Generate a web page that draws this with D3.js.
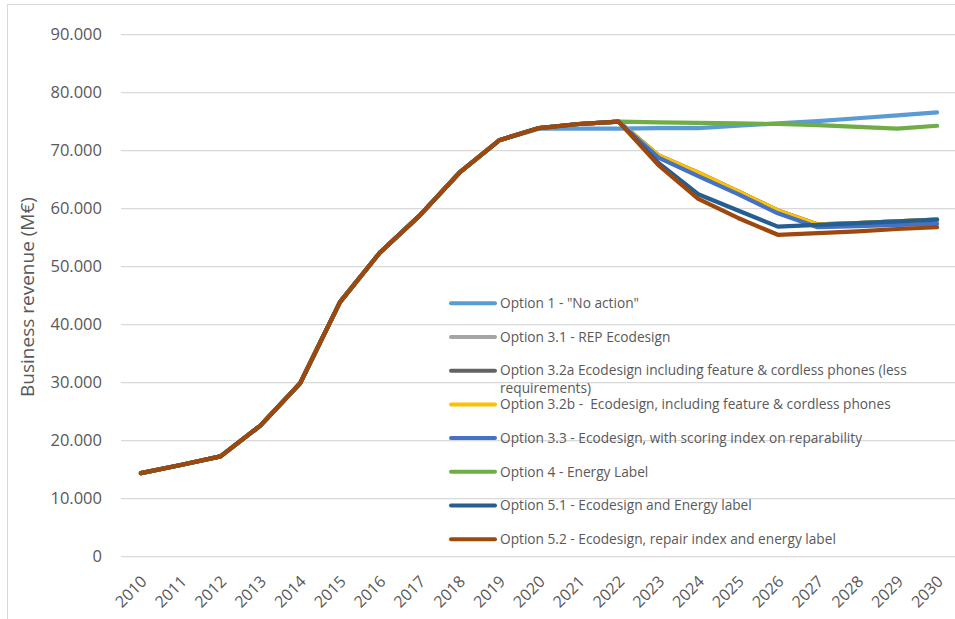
<!DOCTYPE html>
<html>
<head>
<meta charset="utf-8">
<script src="https://cdn.jsdelivr.net/npm/d3@7"></script>
<style>
  body { margin: 0; background: #fff; }
  svg { display: block; font-family: "Open Sans", sans-serif; }
  .grid line { stroke: #d9d9d9; stroke-width: 1.3; }
  .tick-label { fill: #595959; font-size: 16.5px; }
  .legend-text { fill: #595959; font-size: 13.7px; white-space: pre; }
</style>
</head>
<body>
<div id="chart"></div>
<script>
(function() {
  'use strict';

  var years = ['2010', '2011', '2012', '2013', '2014', '2015', '2016', '2017', '2018', '2019',
    '2020', '2021', '2022', '2023', '2024', '2025', '2026', '2027', '2028', '2029', '2030'];

  // 2010-2019 is the same for every option
  var history = [14400, 15800, 17300, 22600, 29900, 43900, 52400, 58800, 66200, 71800];

  // 2020-2030, one list per option
  var option1 = [73800, 73800, 73800, 73900, 73900, 74300, 74700, 75100, 75600, 76100, 76600];
  var option31 = [73900, 74600, 75000, 69200, 66200, 63000, 59700, 57300, 57500, 57800, 58100];
  var option32a = [73900, 74600, 75000, 69200, 66200, 63000, 59700, 57300, 57500, 57800, 58100];
  var option32b = [73900, 74600, 75000, 69200, 66200, 63000, 59700, 57300, 57500, 57800, 58100];
  var option33 = [73900, 74600, 75000, 68800, 65600, 62500, 59200, 56800, 57000, 57200, 57400];
  var option4 = [73900, 74600, 75000, 74900, 74800, 74700, 74600, 74400, 74100, 73800, 74300];
  var option51 = [73900, 74600, 75000, 67900, 62500, 59700, 56900, 57200, 57500, 57800, 58100];
  var option52 = [73900, 74600, 75000, 67500, 61700, 58400, 55500, 55800, 56100, 56500, 56800];

  var seriesNames = [
    'Option 1 - "No action"',
    'Option 3.1 - REP Ecodesign',
    'Option 3.2a Ecodesign including feature & cordless phones (less requirements)',
    'Option 3.2b -  Ecodesign, including feature & cordless phones',
    'Option 3.3 - Ecodesign, with scoring index on reparability',
    'Option 4 - Energy Label',
    'Option 5.1 - Ecodesign and Energy label',
    'Option 5.2 - Ecodesign, repair index and energy label'
  ];
  var seriesTails = [option1, option31, option32a, option32b, option33, option4, option51, option52];
  var colors = ['#5b9bd5', '#a5a5a5', '#636363', '#ffc000', '#4472c4', '#70ad47', '#255e91', '#9e480e'];

  var yTicks = [0, 10000, 20000, 30000, 40000, 50000, 60000, 70000, 80000, 90000];
  var yLabel = 'Business revenue (M€)';

  var width = 955, height = 619;
  var plot = { left: 121, right: 957, top: 34.7, bottom: 556.7 };

  var series = seriesNames.map(function(name, i) {
    return {
      name: name,
      color: colors[i],
      values: history.concat(seriesTails[i])
    };
  });

  var x = d3.scalePoint()
    .domain(years)
    .range([plot.left, plot.right])
    .padding(0.5);

  var y = d3.scaleLinear()
    .domain([0, 90000])
    .range([plot.bottom, plot.top]);

  var fmt = d3.formatLocale({ decimal: ',', thousands: '.', grouping: [3], currency: ['', '€'] }).format(',');

  var svg = d3.select('#chart').append('svg')
    .attr('width', width)
    .attr('height', height);

  // chart border
  svg.append('rect')
    .attr('x', 7.5)
    .attr('y', 4.5)
    .attr('width', 1000)
    .attr('height', 700)
    .attr('fill', 'none')
    .attr('stroke', '#d9d9d9')
    .attr('stroke-width', 1);

  // gridlines + y labels
  var grid = svg.append('g').attr('class', 'grid');
  grid.selectAll('line')
    .data(yTicks)
    .enter().append('line')
    .attr('x1', plot.left)
    .attr('x2', plot.right)
    .attr('y1', function(d) { return y(d); })
    .attr('y2', function(d) { return y(d); });

  svg.append('g').selectAll('text')
    .data(yTicks)
    .enter().append('text')
    .attr('class', 'tick-label')
    .attr('x', 102)
    .attr('y', function(d) { return y(d); })
    .attr('dy', '0.35em')
    .attr('text-anchor', 'end')
    .text(function(d) { return fmt(d); });

  // x labels, rotated
  svg.append('g').selectAll('text')
    .data(years)
    .enter().append('text')
    .attr('class', 'tick-label')
    .style('font-size', '16px')
    .attr('text-anchor', 'end')
    .attr('transform', function(d) {
      return 'translate(' + (x(d) - 1) + ',' + (plot.bottom + 18) + ') rotate(-45)';
    })
    .attr('dy', '0.7em')
    .text(function(d) { return d; });

  svg.append('text')
    .attr('class', 'tick-label')
    .style('font-size', '19px')
    .attr('text-anchor', 'middle')
    .attr('transform', 'translate(27,' + 297 + ') rotate(-90)')
    .attr('dy', '0.35em')
    .text(yLabel);

  var line = d3.line()
    .x(function(d, i) { return x(years[i]); })
    .y(function(d) { return y(d); });

  svg.append('g').selectAll('path')
    .data(series)
    .enter().append('path')
    .attr('d', function(d) { return line(d.values); })
    .attr('fill', 'none')
    .attr('stroke', function(d) { return d.color; })
    .attr('stroke-width', 4.2)
    .attr('stroke-linecap', 'round')
    .attr('stroke-linejoin', 'round');

  // legend sits inside the plot area
  var legend = svg.append('g').selectAll('g')
    .data(series)
    .enter().append('g')
    .attr('transform', function(d, i) {
      return 'translate(450,' + (303.3 + i * 33.7) + ')';
    });

  legend.append('line')
    .attr('x1', 1)
    .attr('x2', 45)
    .attr('stroke', function(d) { return d.color; })
    .attr('stroke-width', 4)
    .attr('stroke-linecap', 'round');

  legend.append('text')
    .attr('class', 'legend-text')
    .attr('x', 50)
    .attr('dy', '0.35em')
    .text(function(d) { return d.name; })
    .each(function() { wrap(d3.select(this), plot.right - 500); });

  function wrap(text, maxWidth) {
    var words = text.text().split(' ');
    text.text(null);
    var tspan = text.append('tspan').attr('x', 50);
    var current = [];
    words.forEach(function(w) {
      current.push(w);
      tspan.text(current.join(' '));
      if (tspan.node().getComputedTextLength() > maxWidth && current.length > 1) {
        current.pop();
        tspan.text(current.join(' '));
        current = [w];
        tspan = text.append('tspan').attr('x', 50).attr('dy', '1.25em').text(w);
      }
    });
  }
})();
</script>
</body>
</html>
